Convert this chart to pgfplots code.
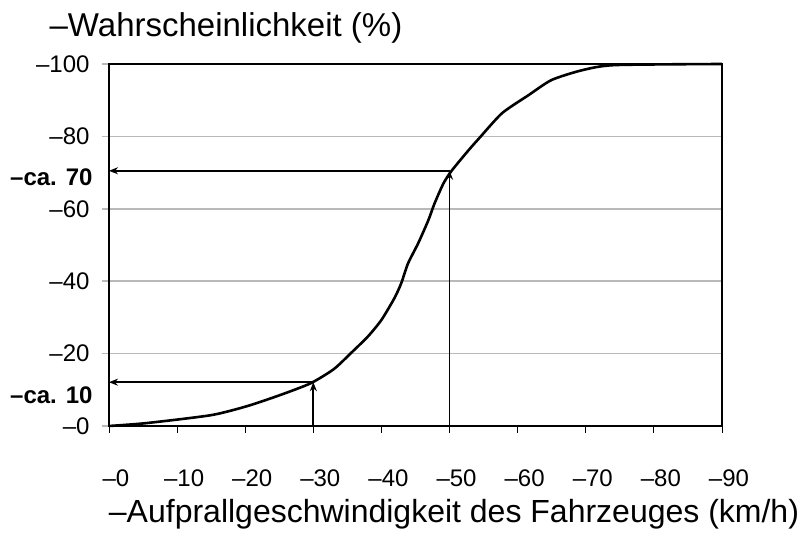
\documentclass[border=0pt]{standalone}
\usepackage{fontspec}
\setmainfont{Liberation Sans}
\usepackage{pgfplots}
\pgfplotsset{compat=1.18}
\usetikzlibrary{arrows.meta}
\begin{document}
\begin{tikzpicture}
\useasboundingbox (-109pt,-109pt) rectangle (694pt,426pt);
\begin{axis}[
  at={(0pt,0pt)}, anchor=south west,
  scale only axis, width=613pt, height=362pt,
  xmin=0, xmax=90, ymin=0, ymax=100,
  clip=false,
  axis line style={black, line width=1.1pt},
  xtick={0,10,...,90},
  xticklabels={--0,--10,--20,--30,--40,--50,--60,--70,--80,--90},
  ytick={0,20,...,100},
  yticklabels={--0,--20,--40,--60,--80,--100},
  xtick pos=bottom, ytick pos=left,
  tick align=outside,
  major tick length=7pt,
  x tick style={black, line width=0.8pt},
  y tick style={gray!55, line width=1.6pt},
  ymajorgrids,
  grid style={gray!55, line width=1.6pt},
  tick label style={font=\fontsize{24}{28}\selectfont},
  xticklabel style={yshift=-33pt, xshift=7pt},
  yticklabel style={xshift=-9pt},
  extra y ticks={68.8,8.6},
  extra y tick labels={\textbf{--ca. 70},\textbf{--ca. 10}},
  extra tick style={major tick length=0pt, grid=none, yticklabel style={xshift=-4pt, font=\fontsize{24}{28}\selectfont}},
]
\addplot[black, line width=2.6pt, smooth, tension=0.4] coordinates {
(0,0) (5.5,0.8) (15,3) (20.3,5.5) (25.2,8.6) (29.6,11.8) (33,15.7)
(35.5,20.1) (38,24.7) (40,29.3) (41.9,35.3) (42.9,39.4) (43.9,44.9)
(45.4,50.5) (46.9,56.9) (47.8,61.5) (49.1,67) (50.3,70.5) (52.8,76.2)
(54.4,79.6) (57.7,86.4) (61.6,91.4) (65,95.6) (69.5,98.3) (74.3,99.7) (90,100)
};
\addplot[black, line width=1.8pt, -{Stealth[length=9pt,width=7pt]}] coordinates {(50,70.5) (0,70.5)};
\addplot[black, line width=1.8pt, -{Stealth[length=9pt,width=7pt]}] coordinates {(50,0) (50,70.5)};
\addplot[black, line width=1.8pt, -{Stealth[length=9pt,width=7pt]}] coordinates {(30,12.1) (0,12.1)};
\addplot[black, line width=1.8pt, -{Stealth[length=9pt,width=7pt]}] coordinates {(30,0) (30,12.1)};
\end{axis}
\node[font=\fontsize{33}{38}\selectfont] at (117pt,398pt) {--Wahrscheinlichkeit (\%)};
\node[font=\fontsize{32}{37}\selectfont] at (345pt,-88pt) {--Aufprallgeschwindigkeit des Fahrzeuges (km/h)};
\end{tikzpicture}
\end{document}
